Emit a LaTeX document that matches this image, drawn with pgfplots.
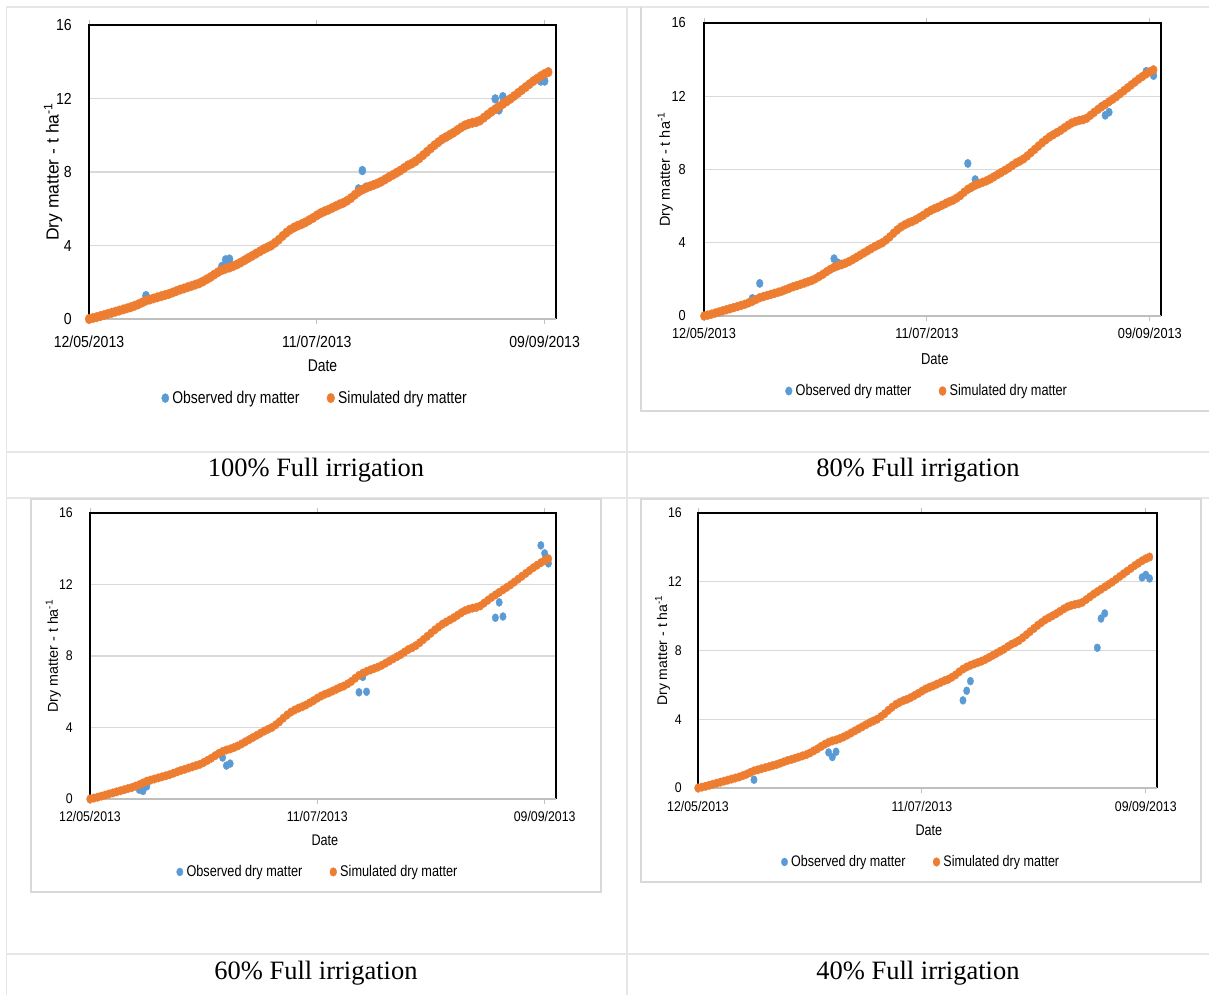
\documentclass[border=0pt]{standalone}
\usepackage{pgfplots}
\pgfplotsset{compat=1.18}
\usepackage{pgfplotstable}
\usepackage{fontspec}
\setmainfont{Liberation Serif}
\newfontfamily\tickfont[FakeStretch=0.88]{Liberation Sans}
\newfontfamily\legfont[FakeStretch=0.82]{Liberation Sans}
\newfontfamily\labfont{Liberation Sans}

\definecolor{obsblue}{HTML}{5B9BD5}
\definecolor{simorange}{HTML}{ED7D31}
\definecolor{gridgray}{HTML}{D9D9D9}
\definecolor{axgray}{HTML}{BFBFBF}
\definecolor{rulegray}{HTML}{E6E6E6}
\definecolor{framegray}{HTML}{D9D9D9}

% Simulated dry matter (t/ha), day 0 = 12/05/2013
\pgfplotstableread{
day dm
0 0.00
1 0.05
2 0.10
3 0.16
4 0.22
5 0.28
6 0.34
7 0.40
8 0.46
9 0.52
10 0.58
11 0.64
12 0.72
13 0.80
14 0.90
15 1.00
16 1.06
17 1.12
18 1.18
19 1.24
20 1.30
21 1.36
22 1.44
23 1.52
24 1.60
25 1.66
26 1.73
27 1.80
28 1.87
29 1.94
30 2.04
31 2.16
32 2.28
33 2.42
34 2.55
35 2.66
36 2.74
37 2.80
38 2.88
39 2.97
40 3.08
41 3.20
42 3.32
43 3.44
44 3.56
45 3.68
46 3.80
47 3.90
48 4.00
49 4.15
50 4.32
51 4.52
52 4.70
53 4.86
54 4.98
55 5.08
56 5.16
57 5.26
58 5.38
59 5.50
60 5.64
61 5.76
62 5.86
63 5.94
64 6.04
65 6.14
66 6.24
67 6.32
68 6.44
69 6.58
70 6.76
71 6.92
72 7.04
73 7.14
74 7.22
75 7.30
76 7.38
77 7.48
78 7.60
79 7.72
80 7.84
81 7.96
82 8.08
83 8.22
84 8.36
85 8.46
86 8.58
87 8.74
88 8.92
89 9.10
90 9.28
91 9.46
92 9.62
93 9.78
94 9.90
95 10.02
96 10.14
97 10.28
98 10.42
99 10.54
100 10.62
101 10.68
102 10.72
103 10.80
104 10.96
105 11.12
106 11.28
107 11.42
108 11.56
109 11.70
110 11.84
111 11.98
112 12.14
113 12.30
114 12.46
115 12.62
116 12.78
117 12.94
118 13.08
119 13.22
120 13.34
121 13.44
}\simtab

% Observed dry matter, 100% irrigation
\pgfplotstableread{
day dm
15 1.27
35 2.86
36 3.22
37 3.26
71 7.08
72 8.08
73 7.18
107 11.98
108 11.38
109 12.10
119 12.95
120 12.95
}\obsA

% Observed dry matter, 80% irrigation
\pgfplotstableread{
day dm
13 0.96
15 1.78
35 3.13
36 2.90
37 2.84
71 8.33
72 7.02
73 7.45
107 11.45
108 10.96
109 11.13
119 13.36
121 13.13
}\obsB

% Observed dry matter, 60% irrigation
\pgfplotstableread{
day dm
13 0.52
14 0.45
15 0.71
35 2.32
36 1.87
37 1.98
71 5.97
72 6.83
73 6.00
107 10.14
108 11.00
109 10.21
119 14.19
120 13.74
121 13.18
}\obsC

% Observed dry matter, 40% irrigation
\pgfplotstableread{
day dm
14 0.91
15 0.48
35 2.07
36 1.80
37 2.11
71 5.10
72 5.66
73 6.22
107 8.16
108 9.86
109 10.16
119 12.25
120 12.40
121 12.19
}\obsD

\pgfplotsset{
  dm/.style={
    scale only axis, anchor=south west, clip=false,
    xmin=0, xmax=123, ymin=0, ymax=16,
    xtick={0,60,120}, xticklabels={12/05/2013,11/07/2013,09/09/2013},
    ytick={0,4,8,12,16}, yticklabels={0,4,8,12,16},
    /pgf/number format/assume math mode=true,
    ymajorgrids, grid style={draw=gridgray, line width=1.3pt},
    axis line style={draw=none},
    tick align=outside, major tick length=5pt,
    xtick style={draw=axgray, line width=1pt},
    ytick style={draw=none},
    xlabel={Date}, ylabel={Dry matter - t ha\textsuperscript{-1}},
    legend columns=2, legend cell align=left,
    legend image code/.code={\draw[##1] plot coordinates {(0pt,0pt)};},
    legend style={draw=none, fill=none, anchor=center, inner sep=0pt,
      nodes={inner xsep=3.5pt, inner ysep=1pt},
      /tikz/every even column/.append style={column sep=24pt}},
    xticklabel style={anchor=north, inner sep=0pt},
    yticklabel style={anchor=east, inner sep=0pt},
    xlabel style={anchor=center}, ylabel style={anchor=center},
  },
}

\newcommand{\plotframe}{%
  \draw[black, line width=1.3pt] (rel axis cs:0,0) -- (rel axis cs:0,1) -- (rel axis cs:1,1) -- (rel axis cs:1,0);
  \draw[axgray, line width=1.6pt] (rel axis cs:0,0) -- (rel axis cs:1,0);}

\begin{document}
\begin{tikzpicture}
\useasboundingbox (0pt,0pt) rectangle (1209pt,-995pt);

% table rules
\begin{scope}[rulegray, line width=1.2pt]
  \draw (6pt,-7pt) -- (1209pt,-7pt);
  \draw (6pt,-452pt) -- (1209pt,-452pt);
  \draw (6pt,-498pt) -- (1209pt,-498pt);
  \draw (6pt,-954pt) -- (1209pt,-954pt);
  \draw (6.5pt,-7pt) -- (6.5pt,-995pt);
  \draw (627pt,-7pt) -- (627pt,-995pt);
\end{scope}

% chart area borders
\begin{scope}[framegray, line width=1.2pt]
  \draw (641pt,-7pt) -- (641pt,-411pt) -- (1209pt,-411pt);
  \draw (31pt,-499pt) rectangle (601pt,-892pt);
  \draw (641pt,-499pt) rectangle (1201pt,-882pt);
\end{scope}

% captions
\begin{scope}[font=\fontsize{26.5}{30}\selectfont]
  \node at (316pt,-470pt) {100\% Full irrigation};
  \node at (918pt,-470pt) {80\% Full irrigation};
  \node at (316pt,-973pt) {60\% Full irrigation};
  \node at (918pt,-973pt) {40\% Full irrigation};
\end{scope}

% 100% irrigation
\begin{axis}[dm, at={(89pt,-319pt)}, width=467pt, height=294pt,
  xticklabel style={font=\tickfont\fontsize{16}{19}\selectfont, yshift=-12pt},
  yticklabel style={font=\tickfont\fontsize{16}{19}\selectfont, xshift=-12pt},
  xlabel style={at={(axis description cs:0.5,-0.16)}, font=\legfont\fontsize{17}{20}\selectfont},
  ylabel style={at={(axis description cs:-0.077,0.5)}, font=\labfont\fontsize{17.5}{21}\selectfont},
  legend style={at={(0.486,-0.269)}, font=\legfont\fontsize{17}{20}\selectfont}]
\plotframe
\addplot[only marks, mark=*, color=obsblue, mark size=4.5pt, mark options={xscale=0.8}] table {\obsA};
\addlegendentry{Observed dry matter}
\addplot[only marks, mark=*, color=simorange, mark size=4.8pt, mark options={xscale=0.8}] table {\simtab};
\addlegendentry{Simulated dry matter}
\end{axis}

% 80% irrigation
\begin{axis}[dm, at={(704pt,-316pt)}, width=457pt, height=293pt,
  xticklabel style={font=\tickfont\fontsize{14.5}{17}\selectfont, yshift=-6.5pt},
  yticklabel style={font=\tickfont\fontsize{14.5}{17}\selectfont, xshift=-13pt},
  xlabel style={at={(axis description cs:0.505,-0.147)}, font=\legfont\fontsize{15.8}{19}\selectfont},
  ylabel style={at={(axis description cs:-0.085,0.5)}, font=\labfont\fontsize{14.5}{17}\selectfont},
  legend style={at={(0.49,-0.256)}, font=\legfont\fontsize{15.5}{18}\selectfont}]
\plotframe
\addplot[only marks, mark=*, color=obsblue, mark size=4.2pt, mark options={xscale=0.8}] table {\obsB};
\addlegendentry{Observed dry matter}
\addplot[only marks, mark=*, color=simorange, mark size=4.5pt, mark options={xscale=0.8}] table {\simtab};
\addlegendentry{Simulated dry matter}
\end{axis}

% 60% irrigation
\begin{axis}[dm, at={(90pt,-799pt)}, width=466pt, height=286pt,
  xticklabel style={font=\tickfont\fontsize{14}{17}\selectfont, yshift=-7.5pt},
  yticklabel style={font=\tickfont\fontsize{14}{17}\selectfont, xshift=-12pt},
  xlabel style={at={(axis description cs:0.504,-0.143)}, font=\legfont\fontsize{15.4}{18}\selectfont},
  ylabel style={at={(axis description cs:-0.079,0.5)}, font=\labfont\fontsize{14.3}{17}\selectfont},
  legend style={at={(0.491,-0.255)}, font=\legfont\fontsize{15.5}{18}\selectfont}]
\plotframe
\addplot[only marks, mark=*, color=obsblue, mark size=4pt, mark options={xscale=0.8}] table {\obsC};
\addlegendentry{Observed dry matter}
\addplot[only marks, mark=*, color=simorange, mark size=4.3pt, mark options={xscale=0.8}] table {\simtab};
\addlegendentry{Simulated dry matter}
\end{axis}

% 40% irrigation
\begin{axis}[dm, at={(698pt,-788pt)}, width=459pt, height=275pt,
  xticklabel style={font=\tickfont\fontsize{14}{17}\selectfont, yshift=-8pt},
  yticklabel style={font=\tickfont\fontsize{14}{17}\selectfont, xshift=-11pt},
  xlabel style={at={(axis description cs:0.503,-0.153)}, font=\legfont\fontsize{15.4}{18}\selectfont},
  ylabel style={at={(axis description cs:-0.077,0.5)}, font=\labfont\fontsize{14}{17}\selectfont},
  legend style={at={(0.488,-0.269)}, font=\legfont\fontsize{15.3}{18}\selectfont}]
\plotframe
\addplot[only marks, mark=*, color=obsblue, mark size=4pt, mark options={xscale=0.8}] table {\obsD};
\addlegendentry{Observed dry matter}
\addplot[only marks, mark=*, color=simorange, mark size=4.3pt, mark options={xscale=0.8}] table {\simtab};
\addlegendentry{Simulated dry matter}
\end{axis}
\end{tikzpicture}
\end{document}
